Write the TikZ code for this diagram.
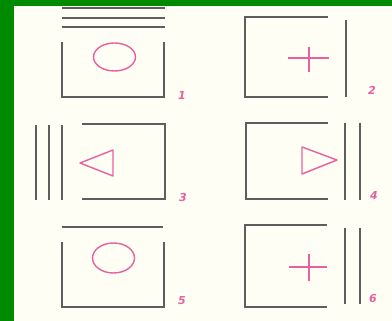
\documentclass[tikz,border=0pt]{standalone}
\usepackage{fontspec}
\setmainfont{DejaVu Sans}
\definecolor{bggreen}{HTML}{008A00}
\definecolor{paper}{HTML}{FFFEF5}
\definecolor{ink}{HTML}{5E5E5E}
\definecolor{pinkink}{HTML}{E8609E}
\begin{document}
\begin{tikzpicture}[x=1pt,y=-1pt,
  gline/.style={draw=ink,line width=1.8pt},
  pline/.style={draw=pinkink,line width=1.4pt},
  numlabel/.style={text=pinkink,font=\fontsize{11}{11}\selectfont\bfseries\itshape,inner sep=0pt}]
\useasboundingbox (0,0) rectangle (392,321);
\fill[bggreen] (0,0) rectangle (392,321);
\fill[paper] (14,6) rectangle (392,321);
% 1
\draw[gline] (62,8) -- (165,8);
\draw[gline] (62,18) -- (165,18);
\draw[gline] (62,27) -- (165,27);
\draw[gline] (62,42) -- (62,97) -- (164,97) -- (164,42);
\draw[pline] (114.5,57) ellipse (21 and 14);
\node[numlabel] (l1) at (182,95) {1};
% 2
\draw[gline] (328,17) -- (245,17) -- (245,97) -- (328,97);
\draw[gline] (346,20) -- (346,97);
\draw[pline] (288,58) -- (329,58);
\draw[pline] (309,47) -- (309,72);
\node[numlabel] (l2) at (372,90) {2};
% 3
\draw[gline] (36,125) -- (36,200);
\draw[gline] (49,125) -- (49,200);
\draw[gline] (62,125) -- (62,200);
\draw[gline] (82,124) -- (165,124) -- (165,199) -- (82,199);
\draw[pline,line join=round] (80,163) -- (113,150) -- (113,176) -- cycle;
\node[numlabel] (l3) at (183,197) {3};
% 4
\draw[gline] (328,123) -- (246,123) -- (246,199) -- (328,199);
\draw[gline] (345,123) -- (345,200);
\draw[gline] (360,123) -- (360,200);
\draw[pline,line join=round] (337,160) -- (302,147) -- (302,174) -- cycle;
\node[numlabel] (l4) at (374,195) {4};
% 5
\draw[gline] (62,227) -- (163,227);
\draw[gline] (62,242) -- (62,307) -- (164,307) -- (164,242);
\draw[pline] (113.5,258) ellipse (21 and 15);
\node[numlabel] (l5) at (182,301) {5};
% 6
\draw[gline] (327,225) -- (245,225) -- (245,307) -- (327,307);
\draw[gline] (345,228) -- (345,304);
\draw[gline] (360,228) -- (360,304);
\draw[pline] (289,267) -- (327,267);
\draw[pline] (309,254) -- (309,281);
\node[numlabel] (l6) at (373,299) {6};
\end{tikzpicture}
\end{document}
